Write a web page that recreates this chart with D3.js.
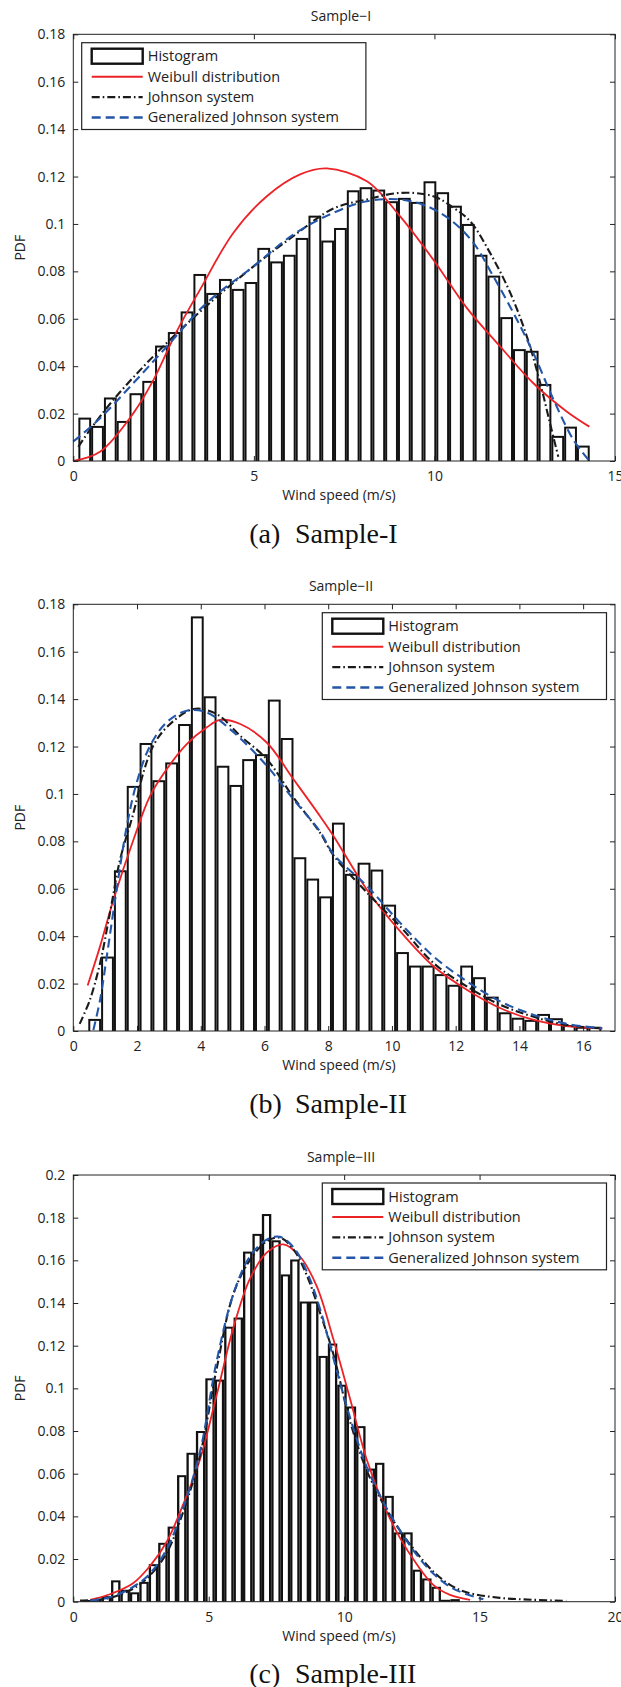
<!DOCTYPE html>
<html><head><meta charset="utf-8">
<script src="https://cdn.jsdelivr.net/npm/d3@7"></script>
<style>body{margin:0;background:#fff}svg{display:block}</style>
</head><body>
<svg id="c" width="621" height="1687"></svg>
<script>
// ---------------- DATA ----------------
const legendLabels = ["Histogram", "Weibull distribution", "Johnson system", "Generalized Johnson system"];

// Sample-I
const s1Title = "Sample\u2212I";
const s1Caption = ["(a)", "Sample-I"];
const s1XDomain = [0, 15];
const s1XTicks = [0, 5, 10, 15];
const s1YDomain = [0, 0.18];
const s1YTicks = [0, 0.02, 0.04, 0.06, 0.08, 0.1, 0.12, 0.14, 0.16, 0.18];
const s1BinStart = 0.14, s1BinWidth = 0.354;
const s1Hist = [0.0183,0.0148,0.0268,0.0169,0.0286,0.0338,0.0487,0.0544,0.0631,0.0789,
  0.0709,0.0768,0.0726,0.0755,0.0899,0.0842,0.0870,0.0941,0.1035,0.0930,
  0.0983,0.1142,0.1155,0.1145,0.1096,0.1110,0.1093,0.1180,0.1134,0.1077,
  0.1000,0.0870,0.0782,0.0607,0.0472,0.0465,0.0325,0.0106,0.0145,0.0065];
const s1Weibull = [[0,0],[0.74,0.0039],[1.66,0.0201],[2.22,0.0342],[2.86,0.0546],[3.51,0.0723],
  [4.43,0.0962],[5.36,0.1117],[6.28,0.1209],[7.02,0.1234],[8.13,0.118],[9.05,0.1032],
  [9.97,0.0849],[10.9,0.0645],[11.82,0.0483],[12.74,0.0328],[13.67,0.0208],[14.29,0.0145]];
const s1Johnson = [[0.14,0.006],[0.46,0.0131],[1.11,0.0258],[1.94,0.0398],[2.77,0.0525],[3.88,0.068],
  [4.99,0.0821],[6.09,0.0948],[7.2,0.1065],[8.13,0.1103],[9.05,0.1131],[9.97,0.1117],
  [10.53,0.1068],[10.99,0.1011],[11.54,0.0878],[12.1,0.0709],[12.56,0.0525],[12.93,0.0328],
  [13.2,0.0159],[13.43,0.0018]];
const s1GenJohnson = [[0,0.0082],[0.74,0.018],[1.66,0.0328],[2.59,0.0483],[3.69,0.0666],[4.99,0.0821],
  [6.09,0.0955],[7.2,0.1047],[8.13,0.1096],[9.05,0.1103],[9.79,0.1075],[10.44,0.1018],
  [11.08,0.092],[11.63,0.0779],[12.19,0.0624],[12.74,0.0455],[13.3,0.0258],[13.85,0.0089],[14.27,0.0004]];

// Sample-II
const s2Title = "Sample\u2212II";
const s2Caption = ["(b)", "Sample-II"];
const s2XDomain = [0, 17];
const s2XTicks = [0, 2, 4, 6, 8, 10, 12, 14, 16];
const s2YDomain = [0, 0.18];
const s2YTicks = [0, 0.02, 0.04, 0.06, 0.08, 0.1, 0.12, 0.14, 0.16, 0.18];
const s2BinStart = 0.47, s2BinWidth = 0.4025;
const s2Hist = [0.0051,0.0314,0.0678,0.1034,0.1215,0.1058,0.1133,0.1295,0.1749,0.1412,
  0.1119,0.1038,0.1147,0.1168,0.1398,0.1236,0.0733,0.0643,0.0568,0.0879,
  0.0663,0.0710,0.0681,0.0533,0.0333,0.0276,0.0276,0.0240,0.0195,0.0276,
  0.0227,0.0145,0.0079,0.0056,0.0047,0.0072,0.0054,0.0025,0.0018,0.0018];
const s2Weibull = [[0.45,0.0192],[0.84,0.0357],[1.26,0.0554],[1.89,0.0808],[2.41,0.0992],[2.93,0.1104],
  [3.56,0.121],[4.19,0.1281],[4.61,0.1312],[5.24,0.1295],[6.07,0.1217],[6.91,0.1062],[7.75,0.0905],
  [8.17,0.0822],[9.22,0.0595],[10.26,0.042],[11.31,0.0272],[12.36,0.0173],[13.41,0.0096],
  [14.45,0.0047],[15.5,0.0021],[16.6,0.0011]];
const s2Johnson = [[0.2,0.003],[0.52,0.0131],[0.84,0.0286],[1.15,0.0498],[1.47,0.0724],[1.89,0.0921],
  [2.2,0.109],[2.51,0.1203],[2.93,0.1281],[3.77,0.1358],[4.5,0.1337],[5.24,0.1245],[6.07,0.1147],
  [6.91,0.0985],[7.75,0.0835],[8.17,0.074],[9.22,0.0583],[10.26,0.0441],[11.31,0.0286],
  [12.36,0.0187],[13.41,0.011],[14.45,0.006],[15.5,0.0025],[16.6,0.0011]];
const s2GenJohnson = [[0.63,0.0004],[0.84,0.0131],[1.05,0.0314],[1.36,0.0597],[1.68,0.0865],[1.99,0.1048],
  [2.41,0.1203],[2.93,0.1302],[3.56,0.1351],[4.19,0.1344],[5.03,0.126],[6.07,0.1119],[6.91,0.0977],
  [7.75,0.084],[8.17,0.0745],[9.22,0.0611],[10.26,0.0456],[11.31,0.0314],[12.36,0.0209],
  [13.41,0.0124],[14.45,0.0068],[15.5,0.003],[16.6,0.0011]];

// Sample-III
const s3Title = "Sample\u2212III";
const s3Caption = ["(c)", "Sample-III"];
const s3XDomain = [0, 20];
const s3XTicks = [0, 5, 10, 15, 20];
const s3YDomain = [0, 0.2];
const s3YTicks = [0, 0.02, 0.04, 0.06, 0.08, 0.1, 0.12, 0.14, 0.16, 0.18, 0.2];
const s3BinStart = 0.35, s3BinWidth = 0.348;
const s3Hist = [0.0008,0.001,0.0026,0.01,0.0056,0.0044,0.0093,0.0176,0.0276,0.0352,
  0.0593,0.0698,0.080,0.1047,0.1041,0.1289,0.1332,0.1641,0.1724,0.1817,
  0.1694,0.1534,0.1604,0.1407,0.1407,0.1152,0.121,0.1017,0.0915,0.0823,
  0.0624,0.0651,0.0496,0.0325,0.0325,0.015,0.0109,0.007,0.0009,0.0012];
const s3Weibull = [[0.62,0.0009],[1.35,0.0035],[2.22,0.0088],[2.83,0.0167],[3.45,0.0281],[4.06,0.0457],
  [4.68,0.0668],[5.29,0.0967],[5.91,0.1284],[6.52,0.1513],[7.14,0.1636],[7.76,0.1675],[8.37,0.1618],
  [8.99,0.1478],[9.6,0.1231],[10.22,0.095],[10.83,0.0668],[11.45,0.0457],[12.06,0.0299],
  [12.68,0.0176],[13.29,0.0079],[13.91,0.0032],[14.65,0.0009]];
const s3Johnson = [[0.25,0.0005],[1.35,0.0018],[2.22,0.0062],[2.83,0.0123],[3.45,0.0229],[4.06,0.0422],
  [4.68,0.0686],[5.29,0.1091],[5.91,0.1442],[6.52,0.1601],[7.14,0.1689],[7.63,0.1706],[8.12,0.1653],
  [8.62,0.153],[9.11,0.1354],[9.6,0.1161],[10.22,0.0844],[10.83,0.0616],[11.45,0.0457],[12.06,0.0334],
  [12.68,0.0229],[13.29,0.0141],[13.91,0.0079],[14.52,0.0044],[15.75,0.0018],[16.98,0.0009],[18.2,0.0004]];
const s3GenJohnson = [[0.62,0.0005],[1.35,0.0021],[2.22,0.007],[2.83,0.0132],[3.45,0.0246],[4.06,0.044],
  [4.68,0.0704],[5.29,0.1126],[5.91,0.1442],[6.52,0.1618],[7.14,0.1697],[7.63,0.171],[8.12,0.1662],
  [8.62,0.1548],[9.11,0.1372],[9.6,0.1143],[10.22,0.0862],[10.83,0.0633],[11.45,0.0466],[12.06,0.0334],
  [12.68,0.022],[13.29,0.0132],[13.91,0.007],[14.52,0.0035],[15.14,0.0012]];

// ---------------- LAYOUT / STYLE ----------------
const SANS = "'Open Sans','Noto Sans',sans-serif";
const SERIF = "'Liberation Serif','DejaVu Serif',serif";
const INK = "#222";
const RED = "#ec2227", BLUE = "#2456a8", BLACK = "#1a1a1a";

const panels = [
  {hist:s1Hist, binStart:s1BinStart, binWidth:s1BinWidth, curves:[s1Weibull,s1Johnson,s1GenJohnson],
   xDomain:s1XDomain, xTicks:s1XTicks, yDomain:s1YDomain, yTicks:s1YTicks, title:s1Title, caption:s1Caption,
   box:{l:73.3,t:34.3,r:615,b:461}, inset:2.0, legend:{x:81.7,y:42.7}, capBase:542.7},
  {hist:s2Hist, binStart:s2BinStart, binWidth:s2BinWidth, curves:[s2Weibull,s2Johnson,s2GenJohnson],
   xDomain:s2XDomain, xTicks:s2XTicks, yDomain:s2YDomain, yTicks:s2YTicks, title:s2Title, caption:s2Caption,
   box:{l:73.3,t:604.3,r:615,b:1031}, inset:2.0, legend:{x:322.3,y:612.7}, capBase:1112.7},
  {hist:s3Hist, binStart:s3BinStart, binWidth:s3BinWidth, curves:[s3Weibull,s3Johnson,s3GenJohnson],
   xDomain:s3XDomain, xTicks:s3XTicks, yDomain:s3YDomain, yTicks:s3YTicks, title:s3Title, caption:s3Caption,
   box:{l:73.3,t:1175,r:615,b:1601.7}, inset:2.3, legend:{x:322.3,y:1183}, capBase:1683.4}
];

const curveStyles = [
  {stroke:RED, width:1.8, dash:null},
  {stroke:BLACK, width:2.1, dash:"8,3,1.6,3"},
  {stroke:BLUE, width:2.1, dash:"9,5"}
];

const fmt = d => d === 0 ? "0" : String(+d.toFixed(2));
const svg = d3.select("#c");

panels.forEach(p => {
  const {l,t,r,b} = p.box;
  const x = d3.scaleLinear().domain(p.xDomain).range([l, r]);
  const y = d3.scaleLinear().domain(p.yDomain).range([b, t]);
  const g = svg.append("g");

  // histogram bars: black body + white interior
  const bins = p.hist.map((v,i) => ({x0:p.binStart + i*p.binWidth, x1:p.binStart + (i+1)*p.binWidth, v}));
  g.append("g").selectAll("rect").data(bins).join("rect")
    .attr("x", d => x(d.x0)).attr("width", d => x(d.x1) - x(d.x0))
    .attr("y", d => y(d.v)).attr("height", d => y(0) - y(d.v))
    .attr("fill", "#111");
  g.append("g").selectAll("rect").data(bins.filter(d => y(0) - y(d.v) > 2.5)).join("rect")
    .attr("x", d => x(d.x0) + p.inset).attr("width", d => Math.max(0, x(d.x1) - x(d.x0) - 2*p.inset))
    .attr("y", d => y(d.v) + 2).attr("height", d => Math.max(0, y(0) - y(d.v) - 2))
    .attr("fill", "#fff");

  // curves
  const line = d3.line().x(d => x(d[0])).y(d => y(d[1])).curve(d3.curveCatmullRom.alpha(0.5));
  p.curves.forEach((c,i) => {
    const st = curveStyles[i];
    g.append("path").attr("d", line(c)).attr("fill","none")
      .attr("stroke", st.stroke).attr("stroke-width", st.width)
      .attr("stroke-dasharray", st.dash);
  });

  // frame
  g.append("rect").attr("x", l).attr("y", t).attr("width", r-l).attr("height", b-t)
    .attr("fill","none").attr("stroke", INK).attr("stroke-width", 1);

  // axes with inward ticks
  const styleAxis = sel => {
    sel.select(".domain").remove();
    sel.selectAll(".tick line").attr("stroke", INK);
    sel.selectAll("text").attr("font-family", SANS).attr("font-size", 14).attr("fill", INK);
  };
  g.append("g").attr("transform", `translate(0,${b})`)
    .call(d3.axisBottom(x).tickValues(p.xTicks).tickSize(-5).tickPadding(10).tickFormat(fmt)).call(styleAxis);
  g.append("g").attr("transform", `translate(0,${t})`)
    .call(d3.axisTop(x).tickValues(p.xTicks).tickSize(-5).tickFormat("")).call(styleAxis);
  g.append("g").attr("transform", `translate(${l},0)`)
    .call(d3.axisLeft(y).tickValues(p.yTicks).tickSize(-5).tickPadding(8).tickFormat(fmt)).call(styleAxis);
  g.append("g").attr("transform", `translate(${r},0)`)
    .call(d3.axisRight(y).tickValues(p.yTicks).tickSize(-5).tickFormat("")).call(styleAxis);

  // titles / labels
  g.append("text").attr("x", 341).attr("y", t - 13).attr("text-anchor","middle")
    .attr("font-family", SANS).attr("font-size", 14).attr("fill", INK).text(p.title);
  g.append("text").attr("x", 339).attr("y", b + 39).attr("text-anchor","middle")
    .attr("font-family", SANS).attr("font-size", 14).attr("fill", INK).text("Wind speed (m/s)");
  g.append("text").attr("transform", `translate(25,${(t+b)/2}) rotate(-90)`).attr("text-anchor","middle")
    .attr("font-family", SANS).attr("font-size", 14).attr("fill", INK).text("PDF");

  // legend
  const L = p.legend, lw = 284.2, lh = 86.8;
  const lg = g.append("g").attr("transform", `translate(${L.x},${L.y})`);
  lg.append("rect").attr("width", lw).attr("height", lh).attr("fill","#fff").attr("stroke", INK).attr("stroke-width", 1.2);
  const rows = [13.5, 34, 54.4, 74.8];
  lg.append("rect").attr("x", 10).attr("y", rows[0]-7.5).attr("width", 51).attr("height", 15)
    .attr("fill","#fff").attr("stroke", "#111").attr("stroke-width", 2.4);
  curveStyles.forEach((st,i) => {
    lg.append("line").attr("x1", 10).attr("x2", 61).attr("y1", rows[i+1]).attr("y2", rows[i+1])
      .attr("stroke", st.stroke).attr("stroke-width", st.width + 0.3).attr("stroke-dasharray", st.dash);
  });
  legendLabels.forEach((s,i) => {
    lg.append("text").attr("x", 66).attr("y", rows[i] + 5).attr("font-family", SANS)
      .attr("font-size", 14.5).attr("fill", INK).text(s);
  });

  // caption
  g.append("text").attr("x", 249.3).attr("y", p.capBase).attr("font-family", SERIF)
    .attr("font-size", 28).attr("fill", "#111").text(p.caption[0]);
  g.append("text").attr("x", 295).attr("y", p.capBase).attr("font-family", SERIF)
    .attr("font-size", 28).attr("fill", "#111").text(p.caption[1]);
});
</script>
</body></html>
